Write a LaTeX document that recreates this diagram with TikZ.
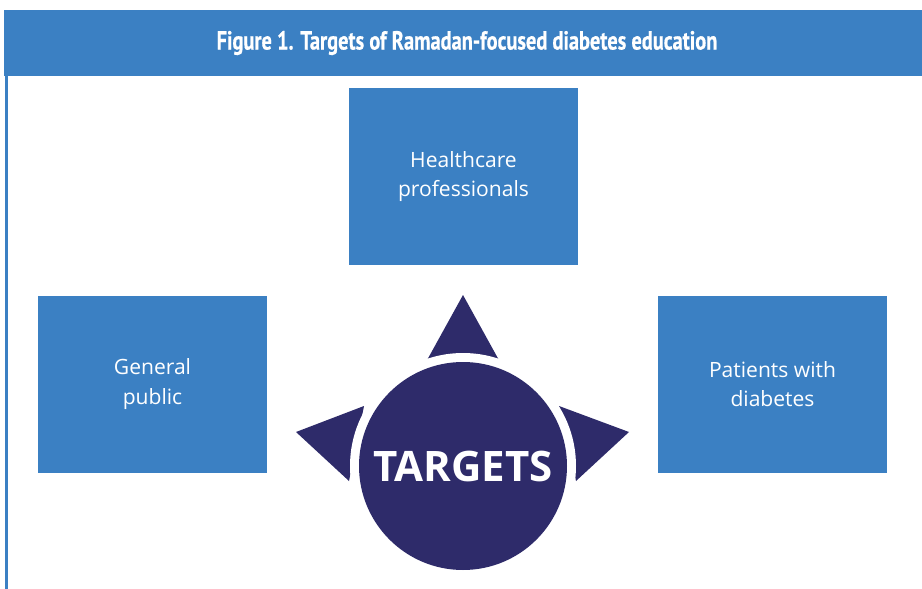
\documentclass[tikz,border=0pt]{standalone}
\usepackage{fontspec}
\setmainfont{Open Sans}
\newfontfamily\titlefont[FakeStretch=0.78,FakeBold=0.6]{PT Sans}
\definecolor{boxblue}{HTML}{3B80C3}
\definecolor{navy}{HTML}{2E2B6A}
\tikzset{
  target/.style={fill=boxblue,minimum width=229*0.75pt,minimum height=177*0.75pt,
    inner sep=0pt,text=white,align=center,font=\fontsize{15.8}{21.8}\selectfont},
}
\begin{document}
\begin{tikzpicture}[x=0.75pt,y=-0.75pt]
\useasboundingbox (0,0) rectangle (922,589);
\fill[white] (0,0) rectangle (922,589);
% header band
\fill[boxblue] (4,10) rectangle (922,76);
\node[text=white,font=\titlefont\bfseries\fontsize{19.6}{22}\selectfont] (title) at (467,43) {Figure 1. Targets of Ramadan-focused diabetes education};
\fill[boxblue] (5,76) rectangle (8,589);
% boxes
\node[target] (hcp) at (463.5,176.5) {Healthcare\\professionals};
\node[target] (gp) at (152.5,384) {General\\public};
\node[target] (pwd) at (772.5,384) {Patients with\\diabetes};
% pointers
\fill[navy] (463,295) -- (426,362) -- (500,362) -- cycle;
\fill[navy] (296,432) -- (364,406) -- (349,481) -- cycle;
\fill[navy] (629,432) -- (559,406) -- (576,481) -- cycle;
\fill[white] (463,466) circle (113);
\node[circle,fill=navy,minimum size=208*0.75pt,inner sep=0pt,text=white,
  font=\bfseries\fontsize{31.5}{31.5}\selectfont] (tgt) at (463,466) {TARGETS};
\end{tikzpicture}
\end{document}
